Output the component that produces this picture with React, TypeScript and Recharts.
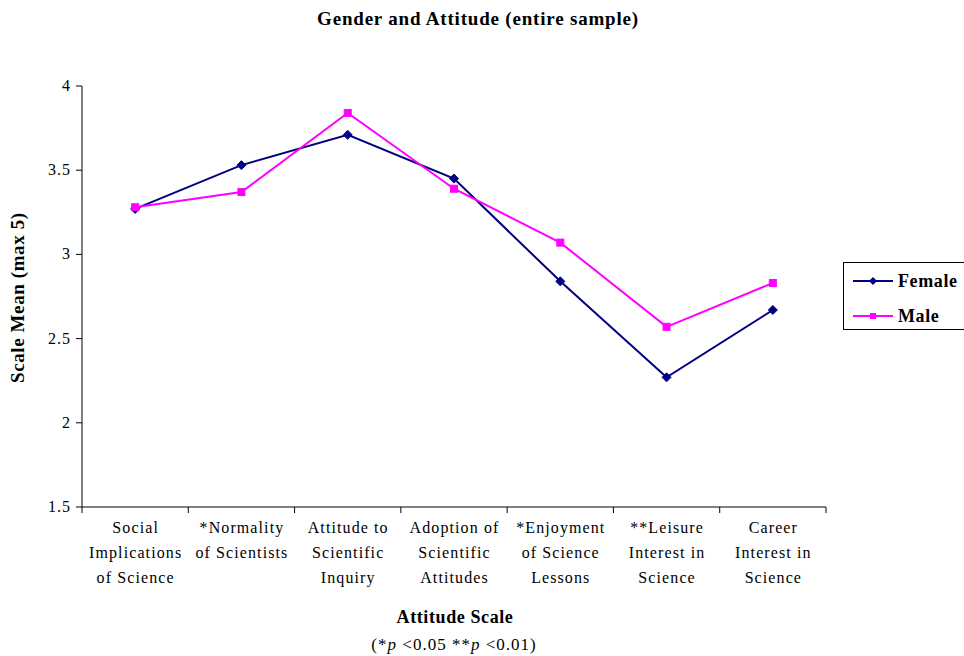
import React from "react";
import { LineChart, Line, XAxis, YAxis } from "recharts";

const categories: string[][] = [
  ["Social", "Implications", "of Science"],
  ["*Normality", "of Scientists"],
  ["Attitude to", "Scientific", "Inquiry"],
  ["Adoption of", "Scientific", "Attitudes"],
  ["*Enjoyment", "of Science", "Lessons"],
  ["**Leisure", "Interest in", "Science"],
  ["Career", "Interest in", "Science"],
];
const female = [3.27, 3.53, 3.71, 3.45, 2.84, 2.27, 2.67];
const male = [3.28, 3.37, 3.84, 3.39, 3.07, 2.57, 2.83];
const yTicks = [1.5, 2, 2.5, 3, 3.5, 4];
const xTicks = [0, 0.5, 1, 1.5, 2, 2.5, 3, 3.5, 4, 4.5, 5, 5.5, 6, 6.5, 7];

const data = categories.map((c, i) => ({ x: i + 0.5, female: female[i], male: male[i] }));

const FONT = "'Liberation Serif', 'Times New Roman', serif";
const FEMALE_C = "#000080";
const MALE_C = "#FF00FF";

const XTick = (props: any) => {
  const { x, y, payload } = props;
  const v = payload.value;
  if (Number.isInteger(v)) {
    return <line x1={x} x2={x} y1={y} y2={y + 6} stroke="#000" strokeWidth={1} />;
  }
  const lines = categories[Math.floor(v)] || [];
  return (
    <g>
      {lines.map((l, i) => (
        <text key={i} x={x + 0.5} y={y + 26 + i * 25} textAnchor="middle" fontFamily={FONT} fontSize={16} letterSpacing={1.1} fill="#000">
          {l}
        </text>
      ))}
    </g>
  );
};

const YTick = (props: any) => {
  const { x, y, payload } = props;
  return (
    <text x={x} y={y + 5} textAnchor="end" fontFamily={FONT} fontSize={16} letterSpacing={1} fill="#000">
      {payload.value}
    </text>
  );
};

const Diamond = (props: any) => {
  const { cx, cy } = props;
  if (cx == null || cy == null) return null;
  const r = 4.5;
  return <path d={`M${cx},${cy - r}L${cx + r},${cy}L${cx},${cy + r}L${cx - r},${cy}Z`} fill={FEMALE_C} stroke={FEMALE_C} />;
};
const Square = (props: any) => {
  const { cx, cy } = props;
  if (cx == null || cy == null) return null;
  const r = 3.5;
  return <rect x={cx - r} y={cy - r} width={2 * r} height={2 * r} fill={MALE_C} stroke={MALE_C} />;
};

export default function App() {
  return (
    <div style={{ position: "absolute", left: 0, top: 0, width: 964, height: 656, overflow: "hidden", background: "#fff", fontFamily: FONT }}>
      <div style={{ position: "absolute", left: 0, width: 956, top: 8, textAlign: "center", fontWeight: "bold", fontSize: 19, letterSpacing: 0.8 }}>
        Gender and Attitude (entire sample)
      </div>
      <LineChart width={964} height={656} data={data} margin={{ top: 86, right: 138, bottom: 0, left: 22 }}>
        <XAxis
          dataKey="x"
          type="number"
          domain={[0, 7]}
          ticks={xTicks}
          interval={0}
          tickLine={false}
          tickSize={0}
          tickMargin={0}
          tick={<XTick />}
          height={149}
          axisLine={{ stroke: "#000", strokeWidth: 1 }}
        />
        <YAxis
          type="number"
          domain={[1.5, 4]}
          ticks={yTicks}
          interval={0}
          width={60}
          tickSize={6}
          tickMargin={5}
          tickLine={{ stroke: "#000" }}
          axisLine={{ stroke: "#000", strokeWidth: 1 }}
          tick={<YTick />}
        />
        <Line dataKey="female" stroke={FEMALE_C} strokeWidth={2} dot={<Diamond />} isAnimationActive={false} />
        <Line dataKey="male" stroke={MALE_C} strokeWidth={2} dot={<Square />} isAnimationActive={false} />
      </LineChart>
      <div style={{ position: "absolute", left: 18, top: 288, width: 190, overflow: "hidden", transform: "translate(-50%, -50%) rotate(-90deg)", whiteSpace: "nowrap", fontWeight: "bold", fontSize: 19, letterSpacing: 0.6, lineHeight: "22px" }}>
        Scale Mean (max 5)
      </div>
      <div style={{ position: "absolute", left: 455, top: 617, transform: "translate(-50%, -50%)", whiteSpace: "nowrap", fontWeight: "bold", fontSize: 18, letterSpacing: 0.6 }}>
        Attitude Scale
      </div>
      <div style={{ position: "absolute", left: 454, top: 645, transform: "translate(-50%, -50%)", whiteSpace: "nowrap", fontSize: 17, letterSpacing: 1 }}>
        (*<i>p</i> &lt;0.05 **<i>p</i> &lt;0.01)
      </div>
      <div style={{ position: "absolute", left: 843, top: 262, width: 140, height: 68, border: "1px solid #000", boxSizing: "border-box", background: "#fff" }}>
        <svg width={140} height={68} style={{ position: "absolute", left: 0, top: 0 }}>
          <line x1={9} x2={49} y1={18} y2={18} stroke={FEMALE_C} strokeWidth={2} />
          <path d="M29,14L33,18L29,22L25,18Z" fill={FEMALE_C} />
          <line x1={9} x2={49} y1={53} y2={53} stroke={MALE_C} strokeWidth={2} />
          <rect x={26} y={50} width={6} height={6} fill={MALE_C} />
          <text x={54} y={24} fontFamily={FONT} fontWeight="bold" fontSize={18} letterSpacing={0.6} fill="#000">Female</text>
          <text x={54} y={59} fontFamily={FONT} fontWeight="bold" fontSize={18} letterSpacing={0.6} fill="#000">Male</text>
        </svg>
      </div>
    </div>
  );
}
